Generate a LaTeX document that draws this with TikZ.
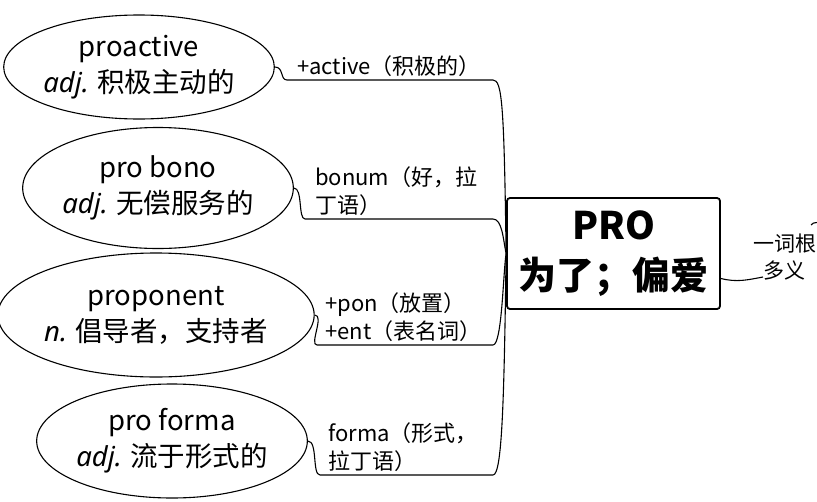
\documentclass[tikz,border=0pt]{standalone}
\usepackage{fontspec}
\setmainfont{Noto Sans CJK SC}
\newfontfamily\posfont{Noto Sans}
\usetikzlibrary{shapes.geometric}
\newcommand{\pos}[1]{{\posfont\itshape #1}}

\begin{document}
\begin{tikzpicture}[x=1pt, y=-1pt,
    word/.style={ellipse, draw, line width=1.1pt, align=center, inner sep=0pt,
                 font=\fontsize{27.5}{36}\selectfont},
    gloss/.style={anchor=south west, align=left, inner xsep=10pt, inner ysep=3pt,
                  font=\fontsize{22}{28}\selectfont},
    rootbox/.style={rectangle, rounded corners=3pt, draw, line width=1.8pt, align=center,
                    minimum width=213pt, minimum height=111pt,
                    font=\fontsize{38}{50}\selectfont\bfseries},
    link/.style={draw, line width=1.1pt},
  ]
  \useasboundingbox (0,0) rectangle (817,501);

  % root word
  \node[rootbox] (root) at (613.5,253.5) {PRO\\为了；偏爱};
  \coordinate (trunk) at (493,0);

  % derived words
  \node[word, minimum width=268pt, minimum height=104pt] (w1) at (139,67)
    {proactive\\\pos{adj.} 积极主动的};
  \node[word, minimum width=264pt, minimum height=121pt] (w2) at (158,188)
    {pro bono\\\pos{adj.} 无偿服务的};
  \node[word, minimum width=282pt, minimum height=124pt] (w3) at (156,315)
    {proponent\\\pos{n.} 倡导者，支持者};
  \node[word, minimum width=267pt, minimum height=114pt] (w4) at (172,441)
    {pro forma\\\pos{adj.} 流于形式的};

  % glosses on the branches
  \node[gloss] (g1) at (287,80) {+active（积极的）};
  \node[gloss] (g2) at (305,219) {bonum（好，拉\\丁语）};
  \node[gloss, inner xsep=8pt] (g3) at (317,345) {+pon（放置）\\+ent（表名词）};
  \node[gloss, inner xsep=8pt] (g4) at (320,475) {forma（形式，\\拉丁语）};

  % branches
  \draw[link] (w1.east) .. controls +(9,0) and +(-7,0) .. (g1.south west)
    -- (g1.south west -| trunk) .. controls +(9,0) and +(-2,-150) .. (root.west);
  \draw[link] (w2.east) .. controls +(9,0) and +(-7,0) .. (g2.south west)
    -- (g2.south west -| trunk) .. controls +(9,0) and +(-3,-15) .. (root.west);
  \draw[link] (w3.east) .. controls +(10,0) and +(-8,0) .. (g3.south west)
    -- (g3.south west -| trunk) .. controls +(9,0) and +(-3,20) .. (root.west);
  \draw[link] (w4.east) .. controls +(10,0) and +(-8,0) .. (g4.south west)
    -- (g4.south west -| trunk) .. controls +(9,0) and +(-2,150) .. (root.west);

  % note on the right
  \node[font=\fontsize{21}{27}\selectfont, align=center, inner sep=1pt] (note) at (784.5,257)
    {一词根\\多义};
  \coordinate (tail) at (763,277);
  \coordinate (tick) at (811,225);
  \coordinate (edge) at (817,222.5);
  \draw[link] ([yshift=-25pt]root.east) .. controls +(16,4) and +(-16,3) .. (tail);
  \draw[link] (tick) .. controls +(2,-2) .. (edge);
\end{tikzpicture}
\end{document}
